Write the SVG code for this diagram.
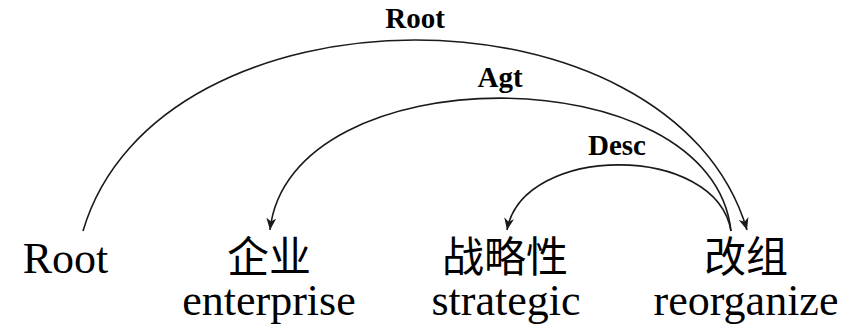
<svg xmlns="http://www.w3.org/2000/svg" width="856" height="325" viewBox="0 0 856 325">
<style>
.w{font-family:"Liberation Serif","Times New Roman",serif;font-size:44px;fill:#000;text-anchor:middle}
.c{font-family:"Liberation Serif","Noto Sans CJK SC",serif;font-size:42px;fill:#000;text-anchor:middle}
.l{font-family:"Liberation Serif","Times New Roman",serif;font-size:29px;font-weight:bold;fill:#000;text-anchor:middle}
.e{fill:none;stroke:#1a1a1a;stroke-width:1.6}
</style>
<defs>
<marker id="ah" markerWidth="14" markerHeight="12" refX="12" refY="5" orient="auto" markerUnits="userSpaceOnUse">
<path d="M0,0 L12,5 L0,10 L3.5,5 Z" fill="#1a1a1a"/>
</marker>
</defs>
<rect width="856" height="325" fill="#fff"/>
<g id="edges">
<path class="e" d="M83,231 C158,-23.5 672,-23.5 747,230" marker-end="url(#ah)"/>
<text class="l" x="415" y="28">Root</text>
<path class="e" d="M731,231 C712,54 289,54 270,230" marker-end="url(#ah)"/>
<text class="l" x="500" y="87">Agt</text>
<path class="e" d="M731,231 C716,143 523,143 507,230" marker-end="url(#ah)"/>
<text class="l" x="617" y="155">Desc</text>
</g>
<g id="root"><text class="w" x="65.5" y="273">Root</text></g>
<g id="n1"><text class="c" x="269" y="272">企业</text><text class="w" x="269" y="315">enterprise</text></g>
<g id="n2"><text class="c" x="505" y="272">战略性</text><text class="w" x="506" y="315">strategic</text></g>
<g id="n3"><text class="c" x="746" y="272">改组</text><text class="w" x="746" y="315">reorganize</text></g>
</svg>
